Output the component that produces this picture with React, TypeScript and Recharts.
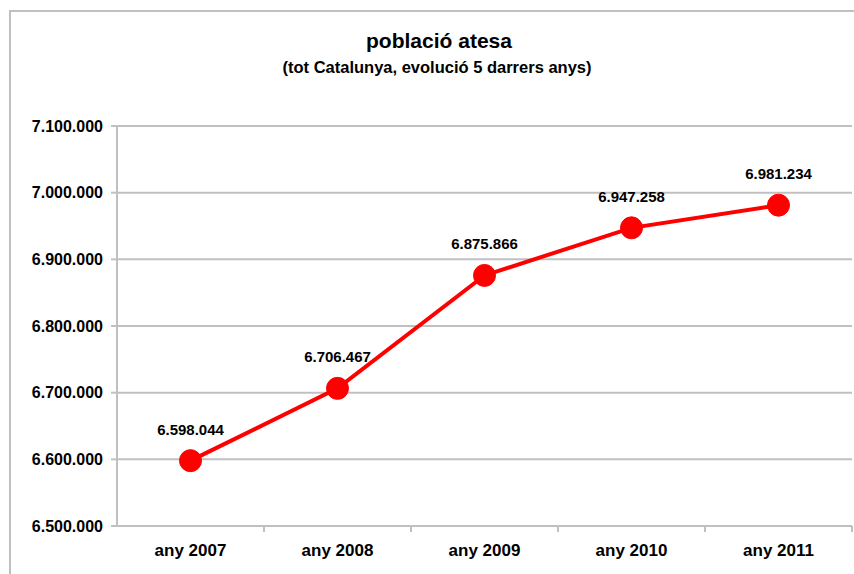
import { LineChart, Line, XAxis, YAxis, CartesianGrid, LabelList } from 'recharts'

const years = ['any 2007', 'any 2008', 'any 2009', 'any 2010', 'any 2011']
const poblacio = [6598044, 6706467, 6875866, 6947258, 6981234]
const yTicks = [6500000, 6600000, 6700000, 6800000, 6900000, 7000000, 7100000]

const data = years.map((any, i) => ({ any, poblacio: poblacio[i] }))

const font = '"Liberation Sans", Arial, sans-serif'
const W = 854
const H = 574
const margin = { top: 126, right: 2, bottom: 0, left: 0 }
const yAxisWidth = 117
const bandW = (W - margin.left - margin.right - yAxisWidth) / years.length

// 7100000 -> "7.100.000"
const fmt = (v: number) => String(Math.round(v)).replace(/\B(?=(\d{3})+(?!\d))/g, '.')

function XTick(props: any) {
  const { x, y, payload } = props
  return (
    <g>
      <line x1={x + bandW / 2} y1={y - 8} x2={x + bandW / 2} y2={y - 2} stroke="#c0c0c0" strokeWidth={2} />
      <text x={x} y={y + 22} textAnchor="middle" fontFamily={font} fontWeight="bold" fontSize={17} fill="#000">
        {payload.value}
      </text>
    </g>
  )
}

export default function App() {
  return (
    <div style={{ position: 'absolute', left: 0, top: 0, width: W, height: H, overflow: 'hidden', background: '#fff' }}>
      <div
        style={{
          position: 'absolute',
          left: 9,
          top: 10,
          width: 900,
          height: 600,
          border: '2px solid #c0c0c0',
        }}
      />
      <div
        style={{
          position: 'absolute',
          left: 0,
          width: 878,
          top: 29,
          textAlign: 'center',
          fontFamily: font,
          fontWeight: 'bold',
          fontSize: 21,
        }}
      >
        població atesa
      </div>
      <div
        style={{
          position: 'absolute',
          left: 0,
          width: 874,
          top: 58,
          textAlign: 'center',
          fontFamily: font,
          fontWeight: 'bold',
          fontSize: 16.5,
        }}
      >
        (tot Catalunya, evolució 5 darrers anys)
      </div>
      <div style={{ position: 'absolute', left: 0, top: 0 }}>
        <LineChart width={W} height={H} data={data} margin={margin}>
          <CartesianGrid vertical={false} stroke="#c0c0c0" strokeWidth={2} />
          <XAxis
            dataKey="any"
            scale="band"
            height={48}
            axisLine={{ stroke: '#c0c0c0', strokeWidth: 2 }}
            tickLine={false}
            tick={<XTick />}
            interval={0}
          />
          <YAxis
            width={yAxisWidth}
            domain={[6500000, 7100000]}
            ticks={yTicks}
            interval={0}
            tickFormatter={fmt}
            axisLine={{ stroke: '#c0c0c0', strokeWidth: 2 }}
            tickLine={{ stroke: '#c0c0c0', strokeWidth: 2 }}
            tickSize={6}
            tickMargin={8}
            tick={{ fontFamily: font, fontWeight: 'bold', fontSize: 16, fill: '#000' }}
          />
          <Line
            type="linear"
            dataKey="poblacio"
            stroke="#ff0000"
            strokeWidth={4}
            dot={{ r: 11, fill: '#ff0000', stroke: '#ff0000', strokeWidth: 1 }}
            activeDot={false}
            isAnimationActive={false}
          >
            <LabelList
              dataKey="poblacio"
              position="top"
              offset={26}
              formatter={(v: any) => fmt(Number(v))}
              style={{ fontFamily: font, fontWeight: 'bold', fontSize: 15, fill: '#000' }}
            />
          </Line>
        </LineChart>
      </div>
    </div>
  )
}
